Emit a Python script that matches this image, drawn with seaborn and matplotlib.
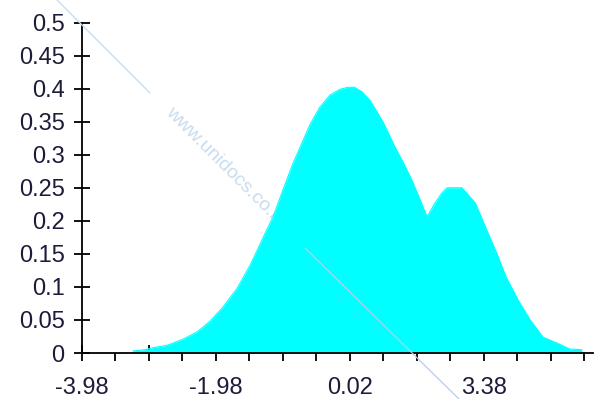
import numpy as np
import matplotlib
matplotlib.use("Agg")
import matplotlib.pyplot as plt
import seaborn as sns
from matplotlib.lines import Line2D

# curve (x in axis units, left edge = -3.98)
xs = [-3.22, -3.04, -2.92, -2.74, -2.67, -2.47, -2.26, -2.07, -1.88, -1.67,
      -1.47, -1.27, -1.12, -0.98, -0.83, -0.70, -0.58, -0.43, -0.28, -0.13,
      -0.01, 0.09, 0.20, 0.32, 0.51, 0.69, 0.83, 0.95, 1.07, 1.17,
      1.29, 1.39, 1.47, 1.59, 1.69, 1.89, 2.04, 2.21, 2.35, 2.53,
      2.71, 2.90, 3.11, 3.30, 3.48]
density = [0.003, 0.005, 0.008, 0.011, 0.013, 0.021, 0.032, 0.048, 0.069, 0.097,
           0.133, 0.176, 0.208, 0.247, 0.287, 0.317, 0.345, 0.372, 0.390, 0.399,
           0.402, 0.402, 0.395, 0.382, 0.350, 0.312, 0.285, 0.260, 0.231, 0.206,
           0.227, 0.242, 0.250, 0.250, 0.250, 0.227, 0.191, 0.151, 0.115, 0.080,
           0.050, 0.024, 0.015, 0.006, 0.005]

x_tick_labels = ["-3.98", "", "-1.98", "", "0.02", "", "3.38", ""]
y_tick_labels = ["0", "0.05", "0.1", "0.15", "0.2", "0.25", "0.3", "0.35", "0.4", "0.45", "0.5"]

sns.set_style("white")
plt.rcParams["font.family"] = ["Liberation Sans", "DejaVu Sans"]

fig = plt.figure(figsize=(5.95, 3.99), dpi=100)
ax = fig.add_axes([82 / 595, 46 / 399, 511 / 595, (353 - 22.5) / 399])

ax.fill_between(xs, density, color="#00ffff", lw=0, zorder=2)
sns.lineplot(x=xs, y=density, color="#00ffff", lw=0.8, ax=ax, zorder=2)

ax.set_xlim(-3.98, 3.647)
ax.set_ylim(0, 0.5)

for s in ["top", "right"]:
    ax.spines[s].set_visible(False)
for s in ["left", "bottom"]:
    ax.spines[s].set_color("black")
    ax.spines[s].set_linewidth(1.3)
    ax.spines[s].set_zorder(4)

txt_color = "#1c1c3a"
ax.set_yticks(np.linspace(0, 0.5, len(y_tick_labels)))
ax.set_yticklabels(y_tick_labels)
ax.set_xticks([-3.98 + k for k in range(len(x_tick_labels))])
ax.set_xticklabels(x_tick_labels)
ax.set_xticks([-3.48 + k for k in range(len(x_tick_labels))], minor=True)

ax.tick_params(axis="y", direction="inout", length=11, width=1.3, color="black",
               labelsize=17, labelcolor=txt_color, pad=7, left=True)
ax.tick_params(axis="x", which="major", direction="inout", length=11, width=1.3,
               color="black", labelsize=17, labelcolor=txt_color, pad=12, bottom=True)
ax.tick_params(axis="x", which="minor", direction="out", length=6, width=1.3,
               color="black", bottom=True)
ax.set_xlabel("")
ax.set_ylabel("")
ax.grid(False)

# watermark
wm = "#c9dcf0"
ax.text(168 / 595, 1 - 110 / 399, "www.unidocs.co.kr", transform=fig.transFigure,
        rotation=-45, rotation_mode="anchor", ha="left", va="center",
        fontsize=14, color=wm, zorder=1, clip_on=False)
fig.add_artist(Line2D([57 / 595, 150 / 595], [1, 1 - 93 / 399],
                      transform=fig.transFigure, color=wm, lw=1))
fig.add_artist(Line2D([305 / 595, 459 / 595], [1 - 248 / 399, 0],
                      transform=fig.transFigure, color="#b8cde6", lw=0.9))

fig.savefig("out.png", dpi=100)
